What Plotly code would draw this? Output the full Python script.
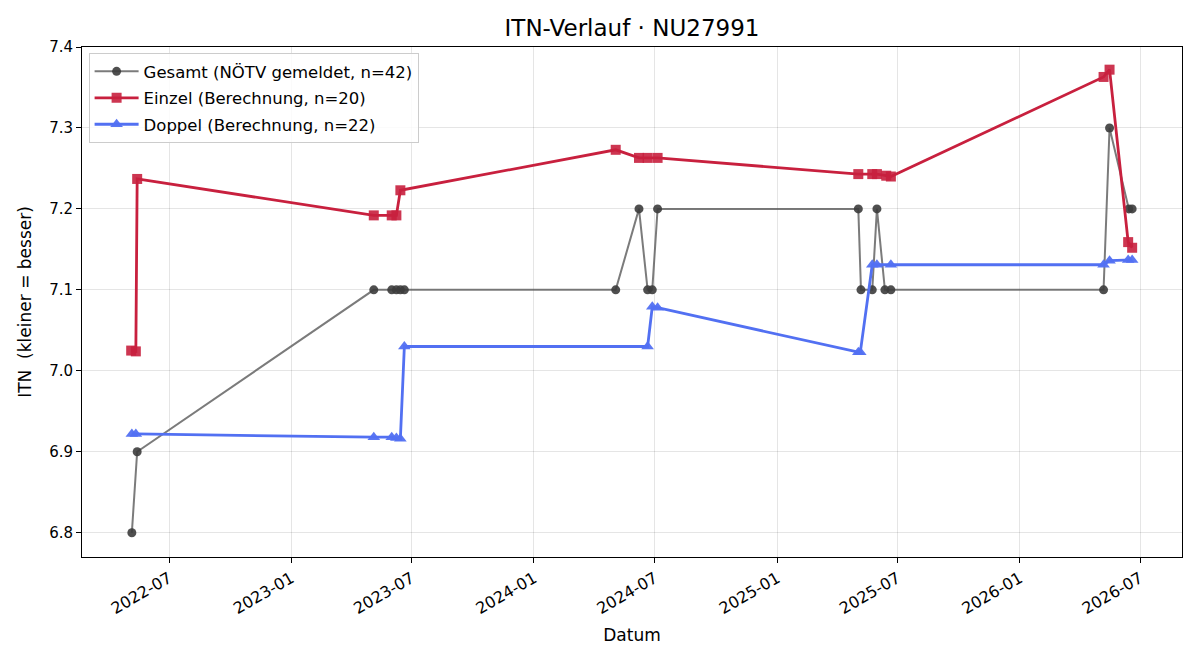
import plotly.graph_objects as go

gesamt_dates = ["2022-05-06", "2022-05-14", "2023-05-05", "2023-06-01", "2023-06-08", "2023-06-14",
                "2023-06-20", "2024-05-03", "2024-06-07", "2024-06-20", "2024-06-27", "2024-07-05",
                "2025-05-03", "2025-05-07", "2025-05-24", "2025-05-31", "2025-06-12", "2025-06-21",
                "2026-05-07", "2026-05-16", "2026-06-14", "2026-06-19"]
gesamt_vals = [6.8, 6.9, 7.1, 7.1, 7.1, 7.1,
               7.1, 7.1, 7.2, 7.1, 7.1, 7.2,
               7.2, 7.1, 7.1, 7.2, 7.1, 7.1,
               7.1, 7.3, 7.2, 7.2]

einzel_dates = ["2022-05-05", "2022-05-12", "2022-05-14", "2023-05-05", "2023-06-01", "2023-06-08",
                "2023-06-14", "2024-05-03", "2024-06-07", "2024-06-20", "2024-07-05", "2025-05-03",
                "2025-05-24", "2025-05-31", "2025-06-14", "2025-06-21", "2026-05-07", "2026-05-16",
                "2026-06-13", "2026-06-19"]
einzel_vals = [7.025, 7.024, 7.237, 7.192, 7.192, 7.192,
               7.223, 7.273, 7.263, 7.263, 7.263, 7.243,
               7.243, 7.243, 7.241, 7.240, 7.363, 7.372,
               7.159, 7.152]

doppel_dates = ["2022-05-06", "2022-05-12", "2023-05-05", "2023-06-01", "2023-06-08", "2023-06-14",
                "2023-06-20", "2024-06-20", "2024-06-27", "2024-07-05", "2025-05-03", "2025-05-06",
                "2025-05-24", "2025-05-31", "2025-06-21", "2026-05-07", "2026-05-16", "2026-06-13",
                "2026-06-19"]
doppel_vals = [6.922, 6.922, 6.918, 6.918, 6.917, 6.916,
               7.030, 7.030, 7.079, 7.078, 7.023, 7.023,
               7.131, 7.131, 7.131, 7.131, 7.136, 7.137,
               7.137]

tick_vals = ["2022-07-01", "2023-01-01", "2023-07-01", "2024-01-01", "2024-07-01",
             "2025-01-01", "2025-07-01", "2026-01-01", "2026-07-01"]
tick_text = ["2022-07", "2023-01", "2023-07", "2024-01", "2024-07",
             "2025-01", "2025-07", "2026-01", "2026-07"]

fig = go.Figure()
fig.add_trace(go.Scatter(
    x=gesamt_dates, y=gesamt_vals, mode="lines+markers",
    name="Gesamt (NÖTV gemeldet, n=42)", legendgroup="g",
    line=dict(color="rgba(90,90,90,0.8)", width=2),
    marker=dict(symbol="circle", size=9, color="rgba(60,60,60,0.9)"),
))
fig.add_trace(go.Scatter(
    x=einzel_dates, y=einzel_vals, mode="lines+markers",
    name="Einzel (Berechnung, n=20)", legendgroup="e",
    line=dict(color="#C8203E", width=2.8),
    marker=dict(symbol="square", size=10, color="rgba(200,32,62,0.9)"),
))
fig.add_trace(go.Scatter(
    x=doppel_dates, y=doppel_vals, mode="lines+markers",
    name="Doppel (Berechnung, n=22)", legendgroup="d",
    line=dict(color="#5270F2", width=2.8),
    marker=dict(symbol="triangle-up", size=11, color="rgba(82,112,242,0.95)"),
))

fig.update_layout(
    width=1200, height=660,
    margin=dict(l=82, r=18, t=47, b=103),
    paper_bgcolor="white", plot_bgcolor="white",
    font=dict(family="DejaVu Sans", size=16, color="black"),
    title=dict(text="ITN-Verlauf · NU27991", x=0.5, xref="paper", xanchor="center",
               y=0.957, yanchor="middle", font=dict(size=23)),
    legend=dict(x=0.006, y=0.988, xanchor="left", yanchor="top",
                bordercolor="#cccccc", borderwidth=1, bgcolor="rgba(255,255,255,0.85)",
                font=dict(size=16.5), tracegroupgap=2, itemwidth=44),
    showlegend=True,
)
fig.update_xaxes(
    title=dict(text="Datum", font=dict(size=17), standoff=12),
    type="date", range=["2022-02-20", "2026-09-02"],
    tickmode="array", tickvals=tick_vals, ticktext=tick_text, tickangle=-30,
    tickfont=dict(size=16),
    showgrid=True, gridcolor="rgba(0,0,0,0.1)", gridwidth=1,
    showline=True, linecolor="black", linewidth=1, mirror=True,
    ticks="outside", ticklen=5, tickcolor="black", zeroline=False,
)
fig.update_yaxes(
    title=dict(text="ITN\u00a0 (kleiner = besser)", font=dict(size=17), standoff=13),
    range=[6.77, 7.4], tickmode="array",
    tickvals=[6.8, 6.9, 7.0, 7.1, 7.2, 7.3, 7.4],
    ticktext=["6.8", "6.9", "7.0", "7.1", "7.2", "7.3", "7.4"],
    tickfont=dict(size=15),
    showgrid=True, gridcolor="rgba(0,0,0,0.1)", gridwidth=1,
    showline=True, linecolor="black", linewidth=1, mirror=True,
    ticks="outside", ticklen=5, tickcolor="black", zeroline=False,
)

fig.write_html("out.html")
